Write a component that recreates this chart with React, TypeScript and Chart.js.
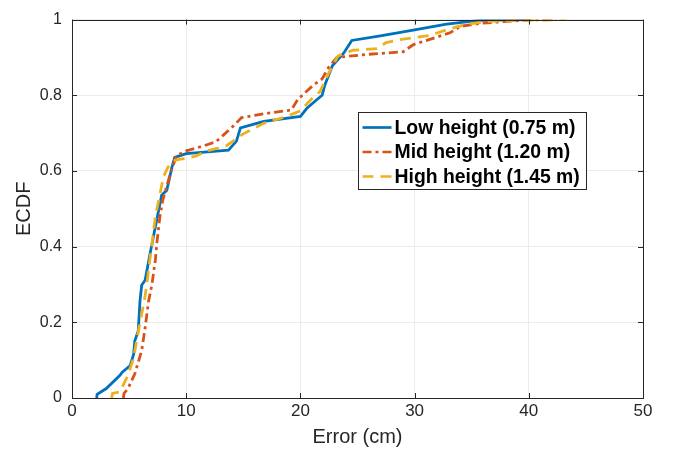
import React, { useEffect, useRef } from 'react';
import { Chart, registerables } from 'chart.js';

Chart.register(...registerables);

// ---- Data ----
const seriesNames = ['Low height (0.75 m)', 'Mid height (1.20 m)', 'High height (1.45 m)'];

const lowX = [2.16, 2.2, 3.0, 4.2, 4.4, 5.1, 5.4, 5.5, 5.8, 5.95, 6.1, 6.4, 6.85, 7.85, 8.3, 8.75, 9.0, 10.0, 13.7, 14.4, 14.75, 16.8, 20.0, 20.55, 21.3, 21.9, 22.15, 22.8, 23.8, 24.5, 27.0, 30.0, 32.8, 35.7, 40.0];
const lowY = [0, 0.01, 0.025, 0.06, 0.068, 0.086, 0.116, 0.151, 0.177, 0.255, 0.298, 0.311, 0.384, 0.536, 0.549, 0.61, 0.636, 0.646, 0.655, 0.679, 0.714, 0.731, 0.744, 0.765, 0.785, 0.8, 0.828, 0.878, 0.912, 0.945, 0.957, 0.973, 0.988, 0.998, 1.0];

const midX = [4.5, 4.55, 4.9, 5.5, 6.1, 6.4, 6.7, 7.0, 7.3, 7.45, 7.7, 7.95, 8.3, 8.7, 9.15, 10.0, 11.5, 12.6, 13.3, 14.1, 14.85, 17.0, 19.2, 19.8, 21.1, 21.9, 22.5, 23.2, 25.8, 29.0, 29.9, 33.1, 34.0, 35.7, 39.8, 42.4];
const midY = [0, 0.012, 0.025, 0.064, 0.125, 0.185, 0.255, 0.3, 0.365, 0.415, 0.48, 0.523, 0.56, 0.601, 0.64, 0.653, 0.666, 0.677, 0.696, 0.718, 0.741, 0.752, 0.761, 0.79, 0.826, 0.843, 0.875, 0.9, 0.908, 0.915, 0.934, 0.965, 0.982, 0.99, 0.999, 1.0];

const highX = [3.47, 3.55, 4.2, 4.9, 5.4, 5.8, 6.2, 6.4, 6.55, 6.75, 7.0, 7.3, 7.6, 8.0, 8.4, 8.9, 9.5, 10.0, 10.9, 11.8, 13.5, 14.1, 15.0, 16.8, 18.8, 20.0, 21.1, 21.7, 22.5, 23.3, 24.6, 26.7, 27.5, 28.7, 31.3, 32.8, 34.3, 36.3, 40.1, 43.3];
const highY = [0, 0.012, 0.016, 0.06, 0.107, 0.175, 0.237, 0.27, 0.3, 0.35, 0.406, 0.48, 0.523, 0.584, 0.61, 0.627, 0.631, 0.633, 0.64, 0.653, 0.666, 0.679, 0.698, 0.726, 0.744, 0.759, 0.794, 0.809, 0.86, 0.904, 0.919, 0.923, 0.939, 0.947, 0.958, 0.973, 0.986, 0.995, 0.999, 1.0];

const xTicks = [0, 10, 20, 30, 40, 50];
const xTickLabels = ['0', '10', '20', '30', '40', '50'];
const yTicks = [0, 0.2, 0.4, 0.6, 0.8, 1];
const yTickLabels = ['0', '0.2', '0.4', '0.6', '0.8', '1'];

const xTitle = 'Error (cm)';
const yTitle = 'ECDF';

const colors = ['#0072BD', '#D95319', '#EDB120'];
const dashes: number[][] = [[], [9, 4, 3, 4], [11, 7]];

const FONT = "'Liberation Sans', Arial, Helvetica, sans-serif";
const AXIS_COLOR = '#262626';

const toPoints = (xs: number[], ys: number[]) => xs.map((x, i) => ({ x, y: ys[i] }));

const decorPlugin = {
  id: 'matlabDecor',
  afterDraw(chart: any) {
    const { ctx, chartArea: a, scales } = chart;
    ctx.save();
    // inward ticks on all four sides
    ctx.strokeStyle = AXIS_COLOR;
    ctx.lineWidth = 1;
    const tl = 5;
    ctx.beginPath();
    xTicks.forEach((v) => {
      const px = Math.round(scales.x.getPixelForValue(v)) + 0.5;
      ctx.moveTo(px, a.bottom);
      ctx.lineTo(px, a.bottom - tl);
      ctx.moveTo(px, a.top);
      ctx.lineTo(px, a.top + tl);
    });
    yTicks.forEach((v) => {
      const py = Math.round(scales.y.getPixelForValue(v)) + 0.5;
      ctx.moveTo(a.left, py);
      ctx.lineTo(a.left + tl, py);
      ctx.moveTo(a.right, py);
      ctx.lineTo(a.right - tl, py);
    });
    ctx.stroke();
    // box
    ctx.strokeRect(Math.round(a.left) + 0.5, Math.round(a.top) + 0.5, Math.round(a.right - a.left), Math.round(a.bottom - a.top));

    // legend
    const lx = Math.round(a.left + 286) + 0.5;
    const ly = Math.round(a.top + 92) + 0.5;
    const lw = 228;
    const lh = 77;
    ctx.fillStyle = '#ffffff';
    ctx.fillRect(lx, ly, lw, lh);
    ctx.strokeStyle = AXIS_COLOR;
    ctx.lineWidth = 1;
    ctx.strokeRect(lx, ly, lw, lh);
    ctx.font = `bold 19.4px ${FONT}`;
    ctx.textBaseline = 'middle';
    ctx.textAlign = 'left';
    chart.data.datasets.forEach((ds: any, i: number) => {
      const cy = ly + 15 + i * 24.5;
      ctx.save();
      ctx.strokeStyle = ds.borderColor;
      ctx.lineWidth = 2.7;
      ctx.setLineDash(ds.borderDash || []);
      ctx.beginPath();
      ctx.moveTo(lx + 4, cy);
      ctx.lineTo(lx + 33, cy);
      ctx.stroke();
      ctx.restore();
      ctx.fillStyle = '#000000';
      ctx.fillText(ds.label, lx + 36, cy + 1);
    });
    ctx.restore();
  },
};

export default function App() {
  const canvasRef = useRef<HTMLCanvasElement | null>(null);

  useEffect(() => {
    if (!canvasRef.current) return;
    const xsList = [lowX, midX, highX];
    const ysList = [lowY, midY, highY];
    const chart = new Chart(canvasRef.current, {
      type: 'line',
      data: {
        datasets: seriesNames.map((name, i) => ({
          label: name,
          data: toPoints(xsList[i], ysList[i]),
          borderColor: colors[i],
          backgroundColor: colors[i],
          borderWidth: 2.8,
          borderDash: dashes[i],
          pointRadius: 0,
          pointHoverRadius: 0,
          tension: 0,
          fill: false,
          order: 2 - i,
        })),
      },
      options: {
        animation: false,
        responsive: true,
        maintainAspectRatio: false,
        events: [],
        layout: { padding: { left: 0, right: 34, top: 13, bottom: 0 } },
        plugins: {
          legend: { display: false },
          tooltip: { enabled: false },
        },
        scales: {
          x: {
            type: 'linear',
            min: 0,
            max: 50,
            afterBuildTicks: (s: any) => {
              s.ticks = xTicks.map((v) => ({ value: v }));
            },
            afterFit: (s: any) => {
              s.height = 58;
            },
            ticks: {
              font: { family: FONT, size: 17 },
              color: AXIS_COLOR,
              padding: 3,
              maxRotation: 0,
              callback: (v: any) => xTickLabels[xTicks.indexOf(Number(v))] ?? '',
            },
            grid: { color: '#ebebeb', drawTicks: false, lineWidth: 1 },
            border: { display: false },
            title: {
              display: true,
              text: xTitle,
              color: AXIS_COLOR,
              font: { family: FONT, size: 20 },
              padding: { top: 0, bottom: 7 },
            },
          },
          y: {
            type: 'linear',
            min: 0,
            max: 1,
            afterBuildTicks: (s: any) => {
              s.ticks = yTicks.map((v) => ({ value: v }));
            },
            afterFit: (s: any) => {
              s.width = 72;
            },
            ticks: {
              font: { family: FONT, size: 16 },
              color: AXIS_COLOR,
              padding: 10,
              callback: (v: any) => {
                const idx = yTicks.findIndex((t) => Math.abs(t - Number(v)) < 1e-9);
                return idx >= 0 ? yTickLabels[idx] : '';
              },
            },
            grid: { color: '#ebebeb', drawTicks: false, lineWidth: 1 },
            border: { display: false },
            title: {
              display: true,
              text: yTitle,
              color: AXIS_COLOR,
              font: { family: FONT, size: 20 },
              padding: { top: 12, bottom: 0 },
            },
          },
        },
      },
      plugins: [decorPlugin],
    } as any);
    return () => chart.destroy();
  }, []);

  return (
    <div style={{ position: 'absolute', left: 0, top: 0, width: 677, height: 456, background: '#ffffff' }}>
      <canvas ref={canvasRef} />
    </div>
  );
}
